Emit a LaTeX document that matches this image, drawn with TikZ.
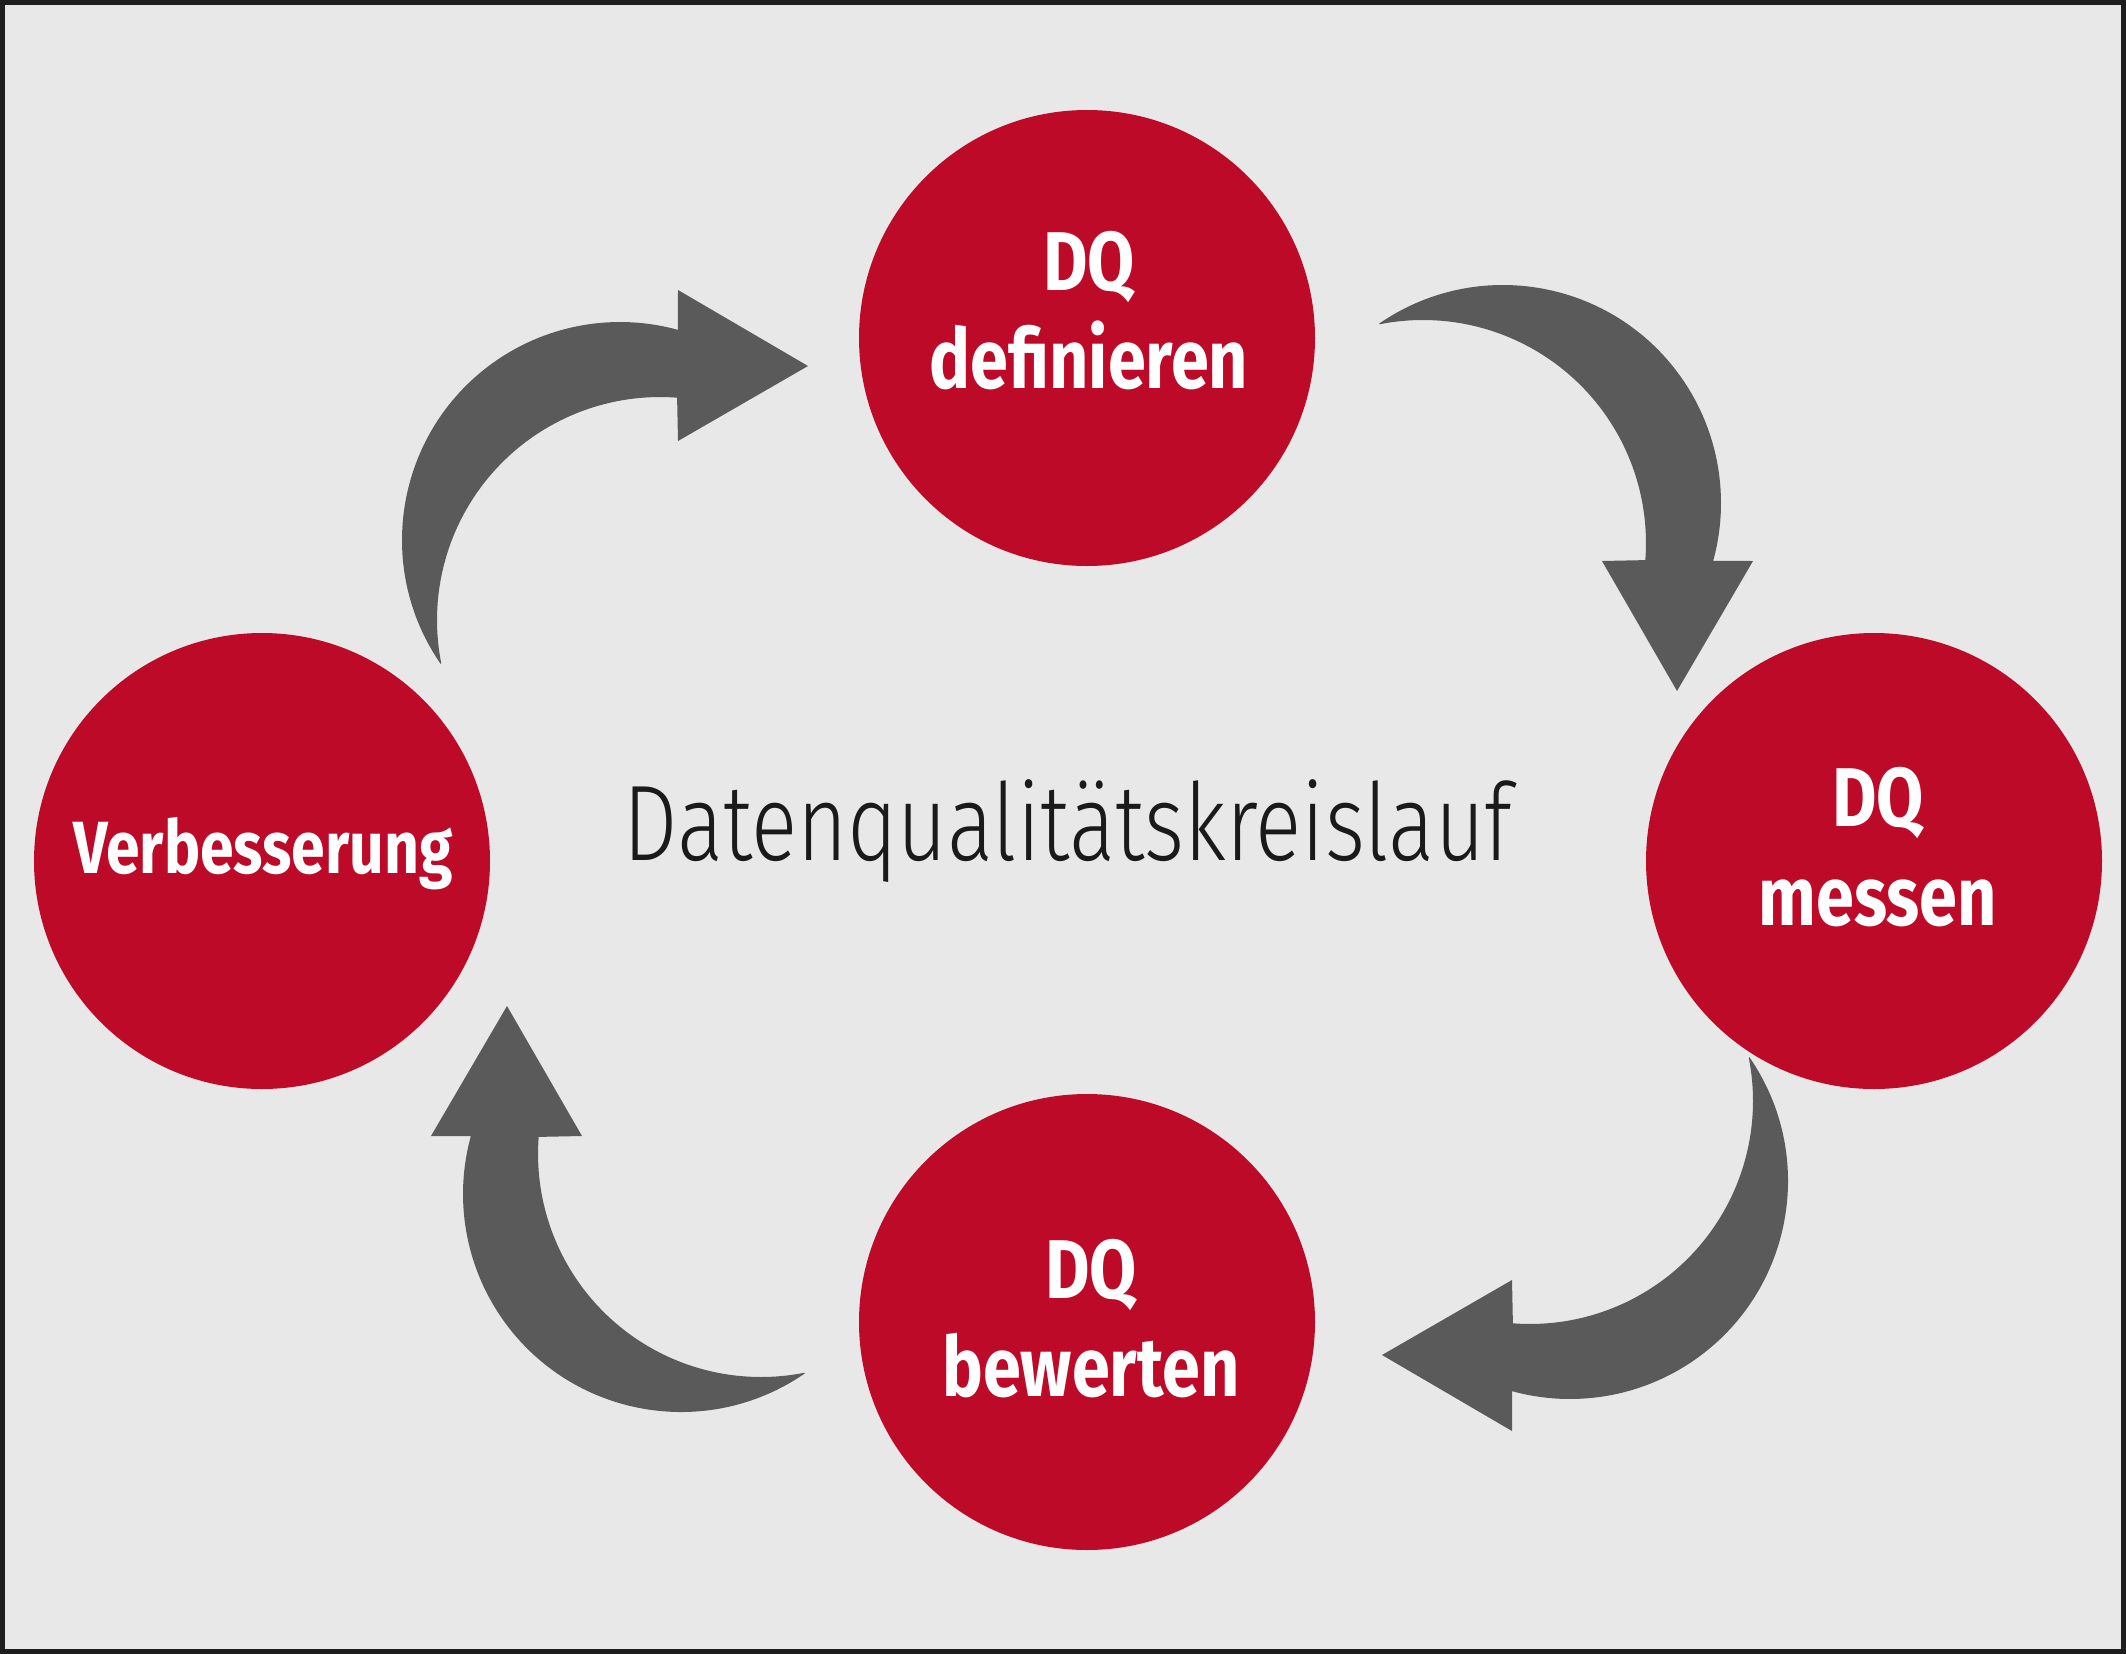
\documentclass[tikz,border=0pt]{standalone}
\usepackage{fontspec}
\newfontfamily\labfont[FakeStretch=0.82]{Fira Sans}
\newfontfamily\titlefont[FakeStretch=0.80]{Fira Sans Light}
\definecolor{dqred}{RGB}{188,10,40}
\definecolor{arrowgray}{RGB}{90,90,90}
\definecolor{bggray}{RGB}{232,232,232}
\definecolor{framecol}{RGB}{30,30,30}
\definecolor{titlecol}{RGB}{26,26,26}
\tikzset{
  dqcircle/.style={circle, fill=dqred, draw=none, minimum size=228pt, inner sep=0pt},
  lab/.style={text=white, inner sep=0pt, anchor=base, font=\labfont\bfseries\fontsize{41.7pt}{50pt}\selectfont},
  labsmall/.style={lab, font=\labfont\bfseries\fontsize{37pt}{44pt}\selectfont},
  titletext/.style={text=titlecol, inner sep=0pt, anchor=base, font=\titlefont\fontsize{53.7pt}{64pt}\selectfont},
  pics/cyclearrow/.style={code={
    \fill[arrowgray] (145.4:218) arc[start angle=145.4, end angle=285.4, radius=218]
      -- (58,-250) -- (188,-174) -- (58,-99) -- (57.1,-142.3)
      arc[start angle=274.4, end angle=168.8, radius=223] -- cycle;
  }}
}
\begin{document}
\begin{tikzpicture}[x=0.5pt, y=-0.5pt]
\useasboundingbox (0,0) rectangle (2126,1654);
\fill[bggray] (0,0) rectangle (2126,1654);
\draw[framecol, line width=2.5pt] (2.5,2.5) rectangle (2123.5,1651.5);

% circles
\node[dqcircle] (define) at (1087,338) {};
\node[dqcircle] (measure) at (1874,861) {};
\node[dqcircle] (assess) at (1087,1322) {};
\node[dqcircle] (improve) at (262,861) {};

% labels
\node[lab] (defineA) at (1089,290.7) {DQ};
\node[lab] (defineB) at (1089,388) {definieren};
\node[lab] (measureA) at (1878,826.7) {DQ};
\node[lab] (measureB) at (1878,925) {messen};
\node[lab] (assessA) at (1091,1298.3) {DQ};
\node[lab] (assessB) at (1091,1396) {bewerten};
\node[labsmall] (improveA) at (263,873.3) {Verbesserung};

% centre title
\node[titletext] (title) at (1068,860.7) {Datenqualitätskreislauf};

% curved arrows
\pic[transform shape] at (620,540) {cyclearrow};
\pic[transform shape, rotate=-90] at (1503,503) {cyclearrow};
\pic[transform shape, rotate=-180] at (1570,1181) {cyclearrow};
\pic[transform shape, rotate=90] at (681,1194) {cyclearrow};
\end{tikzpicture}
\end{document}
